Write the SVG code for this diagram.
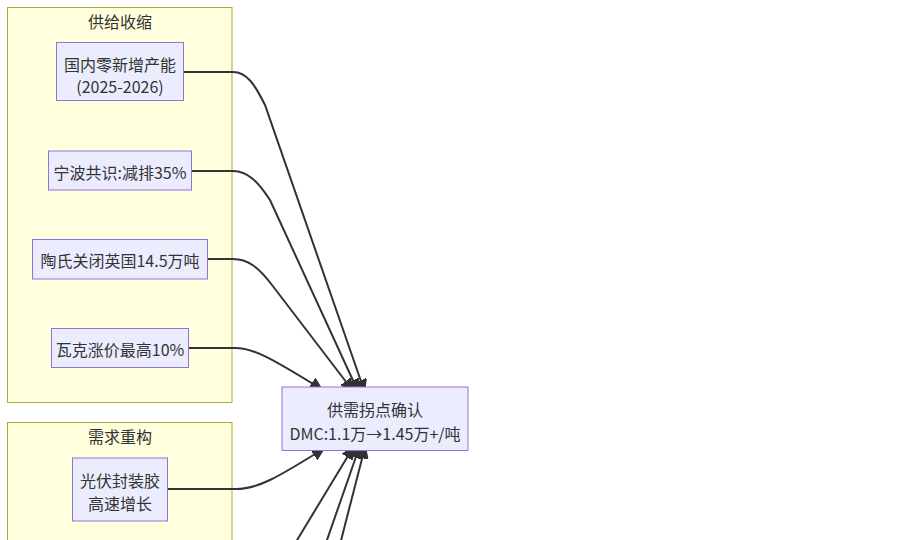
<svg xmlns="http://www.w3.org/2000/svg" width="900" height="540" viewBox="0 0 900 540">
<style>
.cluster rect{fill:#ffffde;stroke:#aaaa33;stroke-width:1}
.node rect{fill:#ECECFF;stroke:#9370DB;stroke-width:1}
text{font-family:"Noto Sans CJK SC","Noto Sans",sans-serif;font-size:16px;fill:#333;text-anchor:middle;dominant-baseline:central}
.edge path{fill:none;stroke:#333;stroke-width:2}
</style>
<defs>
<marker id="arrow" viewBox="0 0 10 10" refX="6" refY="5" markerUnits="userSpaceOnUse" markerWidth="12" markerHeight="12" orient="auto">
<path d="M0,0 L10,5 L0,10 z" fill="#333" stroke="#333" stroke-width="1"/>
</marker>
</defs>
<rect width="900" height="540" fill="#fff"/>
<g id="cluster-supply" class="cluster">
<rect x="7.5" y="7.5" width="224.5" height="395"/>
<text x="120" y="21">供给收缩</text>
</g>
<g id="cluster-demand" class="cluster">
<rect x="7.5" y="422.5" width="224.5" height="140"/>
<text x="120" y="436">需求重构</text>
</g>
<g id="connectors" class="edge">
<path d="M184,72 L233,72 C247,72 255,85 265,105 L363,387" marker-end="url(#arrow)"/>
<path d="M192,171 L233,171 C248,171 258,182 270,200 L356,387" marker-end="url(#arrow)"/>
<path d="M207,259 L233,259 C248,259 258,267 272,285 L350,387" marker-end="url(#arrow)"/>
<path d="M189,348 L235,348 C252,348 268,356 318,387" marker-end="url(#arrow)"/>
<path d="M167,489 L236,489 C258,489 278,477 320,451" marker-end="url(#arrow)"/>
<path d="M285,560 L351,451" marker-end="url(#arrow)"/>
<path d="M320,560 L358,451" marker-end="url(#arrow)"/>
<path d="M336,560 L364,451" marker-end="url(#arrow)"/>
</g>
<g id="n1" class="node">
<rect x="56.5" y="42.5" width="127" height="58"/>
<text x="120" y="64">国内零新增产能</text>
<text x="120" y="86">(2025-2026)</text>
</g>
<g id="n2" class="node">
<rect x="48.5" y="151" width="143" height="39"/>
<text x="120" y="171.5">宁波共识:减排35%</text>
</g>
<g id="n3" class="node">
<rect x="32.5" y="239.5" width="175" height="39.5"/>
<text x="120" y="260">陶氏关闭英国14.5万吨</text>
</g>
<g id="n4" class="node">
<rect x="51.5" y="328.5" width="137" height="39"/>
<text x="120" y="349">瓦克涨价最高10%</text>
</g>
<g id="n5" class="node">
<rect x="72.5" y="458" width="95" height="63"/>
<text x="120" y="480">光伏封装胶</text>
<text x="120" y="503">高速增长</text>
</g>
<g id="target" class="node">
<rect x="282" y="387" width="186" height="63.5"/>
<text x="375" y="408.5">供需拐点确认</text>
<text x="375" y="433">DMC:1.1万→1.45万+/吨</text>
</g>
</svg>
